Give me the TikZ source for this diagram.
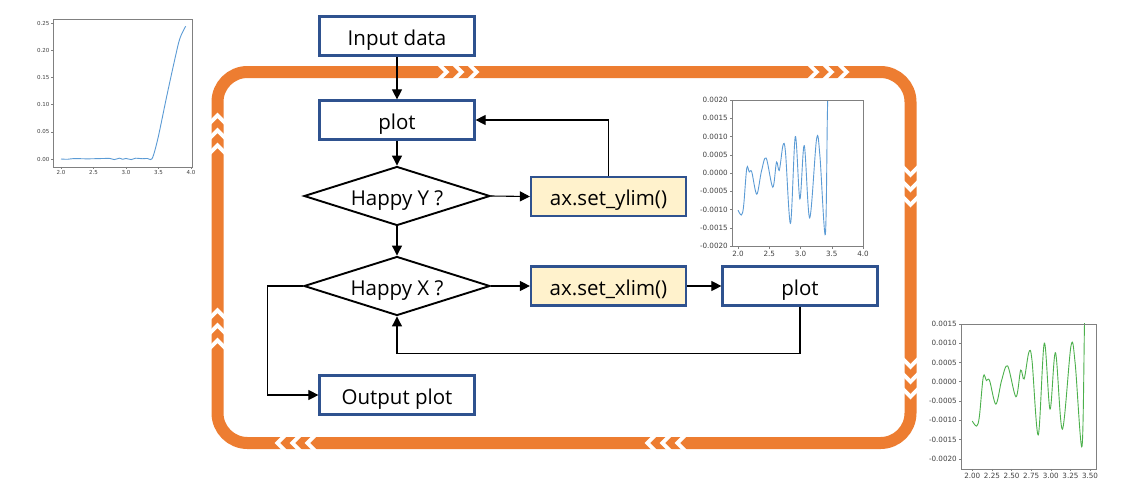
\documentclass[tikz,border=0pt]{standalone}
\usepackage{fontspec}
\setmainfont{Open Sans}
\newfontfamily\plotfont{DejaVu Sans}
\usetikzlibrary{shapes.geometric,arrows.meta}
\definecolor{orng}{HTML}{ED7D31}
\definecolor{navy}{HTML}{2F528F}
\definecolor{lyel}{HTML}{FFF2CC}
\definecolor{pblue}{HTML}{5B9BD5}
\definecolor{pgreen}{HTML}{4CB04C}
\definecolor{axgray}{HTML}{808080}
\definecolor{ticktxt}{HTML}{404040}
\begin{document}
\begin{tikzpicture}[x=1pt,y=-1pt,
  box/.style={draw=navy,line width=2.2pt,minimum width=155pt,minimum height=39pt,inner sep=0pt,text height=20pt,text depth=2pt,font=\fontsize{20.5}{24}\selectfont},
  ybox/.style={box,fill=lyel},
  dia/.style={diamond,draw=black,line width=1.9pt,aspect=3.13,minimum width=186pt,minimum height=59pt,inner sep=1pt,text height=20pt,text depth=2pt,font=\fontsize{20.5}{24}\selectfont},
  arr/.style={line width=1.1pt,-{Triangle[length=10pt,width=10pt]}},
  loopband/.style={orng,line width=12pt,rounded corners=30pt},
  chevs/.pic={\foreach \k in {0,15,30}{\fill[white] (\k,-6.8) -- (\k+5.5,-6.8) -- (\k+12.5,0) -- (\k+5.5,6.8) -- (\k,6.8) -- (\k+7,0) -- cycle;}},
  axfr/.style={axgray,line width=0.6pt},
  tk/.style={axgray,line width=0.5pt},
  lab1/.style={inner sep=0pt,text=ticktxt,font=\plotfont\fontsize{5.5}{6}\selectfont},
  lab2/.style={inner sep=0pt,text=ticktxt,font=\plotfont\fontsize{7.2}{8}\selectfont}]
\fill[white] (0,0) rectangle (1134,493);
\useasboundingbox (0,0) rectangle (1134,493);

% orange loop
\draw[loopband] (217.5,72) rectangle (910.5,443);
\pic at (437,72) {chevs};
\pic at (807,72) {chevs};
\pic[rotate=-90] at (910.5,165) {chevs};
\pic[rotate=-90] at (910.5,357) {chevs};
\pic[rotate=180] at (317,443) {chevs};
\pic[rotate=180] at (687,443) {chevs};
\pic[rotate=90] at (217.5,155) {chevs};
\pic[rotate=90] at (217.5,350) {chevs};

% flowchart
\node[box] (in) at (397,36) {Input data};
\node[box] (p1) at (397,120) {plot};
\node[dia] (hy) at (397,196) {Happy Y ?};
\node[ybox] (yl) at (608.5,196.5) {ax.set\_ylim()};
\node[dia] (hx) at (397,286) {Happy X ?};
\node[ybox] (xl) at (608.5,286) {ax.set\_xlim()};
\node[box] (p2) at (800,286) {plot};
\node[box] (out) at (397,395) {Output plot};

\draw[arr] (in) -- (p1);
\draw[arr] (p1) -- (hy);
\draw[arr] (hy.east) -- (yl.west);
\draw[arr] (yl.north) |- (p1.east);
\draw[arr] (hy) -- (hx);
\draw[arr] (hx.east) -- (xl.west);
\draw[arr] (xl) -- (p2);
\draw[arr] (p2.south) -- ++(0,47) -| (hx.south);
\draw[arr] (hx.west) -- ++(-36,0) |- (out.west);

% plot 1 (top left)
\begin{scope}[shift={(-69,159)},x=65pt,y=544pt]
  \draw[pblue,line width=0.9pt] plot[smooth,tension=0.55] coordinates {(2.0,0) (2.1,-0.0005) (2.2,0.0008) (2.4,0.0003) (2.6,0.0008) (2.75,0.001) (2.82,-0.001) (2.9,0.0015) (2.95,-0.0005) (3.0,0.001) (3.08,-0.001) (3.15,0.0015) (3.25,0.0005) (3.33,0.001) (3.38,-0.001) (3.42,0.006) (3.497,0.041) (3.626,0.115) (3.754,0.185) (3.83,0.222) (3.918,0.244)};
  \draw[axfr] (1.877,-0.0147) rectangle (4.015,0.2574);
  \foreach \t in {2.0,2.5,3.0,3.5,4.0}{
    \draw[tk] (\t,-0.0147) -- ++(0,-2pt);
    \node[lab1,anchor=north] at ([yshift=-3.5pt]\t,-0.0147) {\t};}
  \foreach \v/\l in {0/0.00,0.05/0.05,0.1/0.10,0.15/0.15,0.2/0.20,0.25/0.25}{
    \draw[tk] (1.877,\v) -- ++(-2pt,0);
    \node[lab1,anchor=east] at ([xshift=-3.5pt]1.877,\v) {\l};}
\end{scope}

% plot 2 (middle)
\begin{scope}[shift={(613,173)},x=62.5pt,y=36.5pt]
  \begin{scope}
    \clip (1.904,-2) rectangle (4,2);
    \draw[pblue,line width=0.9pt] plot[smooth,tension=0.55] coordinates {(2.0,-1.02) (2.055,-1.15) (2.09,-0.9) (2.14,0.13) (2.18,0.03) (2.22,0.03) (2.30,-0.58) (2.374,0.04) (2.45,0.41) (2.556,-0.39) (2.616,0.30) (2.66,0.07) (2.72,0.76) (2.76,0.56) (2.84,-1.38) (2.917,1.0) (2.99,-0.71) (3.06,0.75) (3.147,-1.23) (3.257,0.93) (3.31,0.48) (3.397,-1.68) (3.43,1.6) (3.45,3.0)};
  \end{scope}
  \draw[axfr] (1.904,-2) rectangle (4,2);
  \foreach \t in {2.0,2.5,3.0,3.5,4.0}{
    \draw[tk] (\t,-2) -- ++(0,-2.5pt);
    \node[lab2,anchor=north] at ([yshift=-4.5pt]\t,-2) {\t};}
  \foreach \v/\l in {-2/-0.0020,-1.5/-0.0015,-1/-0.0010,-0.5/-0.0005,0/0.0000,0.5/0.0005,1/0.0010,1.5/0.0015,2/0.0020}{
    \draw[tk] (1.904,\v) -- ++(-2.5pt,0);
    \node[lab2,anchor=east] at ([xshift=-4pt]1.904,\v) {\l};}
\end{scope}

% plot 3 (bottom right)
\begin{scope}[shift={(815.3,381.7)},x=78.5pt,y=38.6pt]
  \begin{scope}
    \clip (1.856,-2.26) rectangle (3.576,1.5);
    \draw[pgreen,line width=0.9pt] plot[smooth,tension=0.55] coordinates {(2.0,-1.02) (2.055,-1.15) (2.09,-0.9) (2.14,0.13) (2.18,0.03) (2.22,0.03) (2.30,-0.58) (2.374,0.04) (2.45,0.41) (2.556,-0.39) (2.616,0.30) (2.66,0.07) (2.72,0.76) (2.76,0.56) (2.84,-1.38) (2.917,1.0) (2.99,-0.71) (3.06,0.75) (3.147,-1.23) (3.257,0.93) (3.31,0.48) (3.397,-1.68) (3.43,1.6) (3.45,3.0)};
  \end{scope}
  \draw[axfr] (1.856,-2.26) rectangle (3.576,1.5);
  \foreach \t in {2.00,2.25,2.50,2.75,3.00,3.25,3.50}{
    \draw[tk] (\t,-2.26) -- ++(0,-2.5pt);
    \node[lab2,anchor=north] at ([yshift=-4.5pt]\t,-2.26) {\t};}
  \foreach \v/\l in {-2/-0.0020,-1.5/-0.0015,-1/-0.0010,-0.5/-0.0005,0/0.0000,0.5/0.0005,1/0.0010,1.5/0.0015}{
    \draw[tk] (1.856,\v) -- ++(-2.5pt,0);
    \node[lab2,anchor=east] at ([xshift=-4pt]1.856,\v) {\l};}
\end{scope}
\end{tikzpicture}
\end{document}
